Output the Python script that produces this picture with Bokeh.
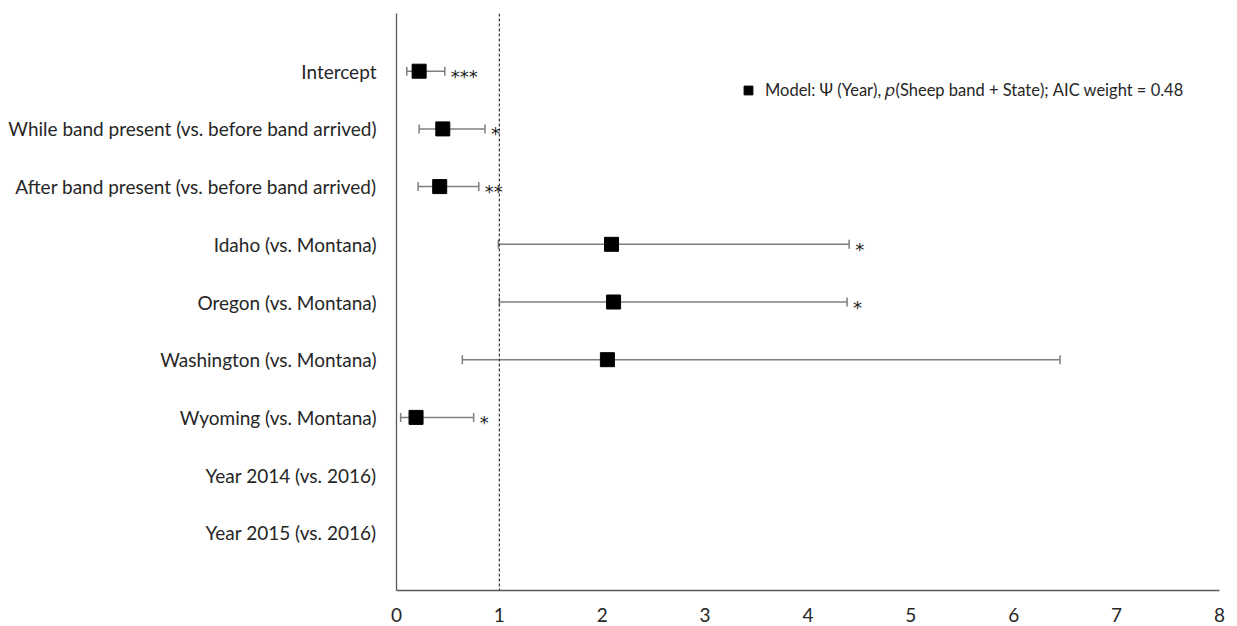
from bokeh.plotting import figure
from bokeh.models import ColumnDataSource, Whisker, TeeHead, Span, FixedTicker, Range1d, Legend, LegendItem
from bokeh.embed import file_html
from bokeh.resources import INLINE

categories = [
    "Intercept",
    "While band present (vs. before band arrived)",
    "After band present (vs. before band arrived)",
    "Idaho (vs. Montana)",
    "Oregon (vs. Montana)",
    "Washington (vs. Montana)",
    "Wyoming (vs. Montana)",
    "Year 2014 (vs. 2016)",
    "Year 2015 (vs. 2016)",
]
estimate = [0.22, 0.45, 0.42, 2.09, 2.11, 2.05, 0.19, None, None]
lower = [0.10, 0.22, 0.21, 0.99, 1.00, 0.64, 0.04, None, None]
upper = [0.47, 0.86, 0.80, 4.40, 4.38, 6.45, 0.75, None, None]
significance = ["***", "*", "**", "*", "*", "", "*", "", ""]
x_ticks = [0, 1, 2, 3, 4, 5, 6, 7, 8]
legend_text = "Model: \u03a8 (Year), \U0001D45D(Sheep band + State); AIC weight = 0.48"

n = len(categories)
ypos = [n - i for i in range(n)]
rows = [i for i in range(n) if estimate[i] is not None]
src = ColumnDataSource(dict(
    y=[ypos[i] for i in rows],
    est=[estimate[i] for i in rows],
    lo=[lower[i] for i in rows],
    hi=[upper[i] for i in rows],
    sig=[significance[i] for i in rows],
))

FONT = "Lato"
TXT = "#262626"

p = figure(width=1233, height=624, output_backend="svg", toolbar_location=None,
           x_range=Range1d(0, 8), y_range=Range1d(0, n + 1),
           min_border_left=396, min_border_right=14, min_border_top=13, min_border_bottom=33)
p.outline_line_color = None
p.grid.visible = False
p.background_fill_color = "white"

p.xaxis.ticker = FixedTicker(ticks=x_ticks)
p.yaxis.ticker = FixedTicker(ticks=ypos)
p.yaxis.major_label_overrides = {ypos[i]: categories[i] for i in range(n)}
for ax in (p.xaxis[0], p.yaxis[0]):
    ax.axis_line_color = "#595959"
    ax.axis_line_width = 1.3
    ax.major_tick_line_color = None
    ax.minor_tick_line_color = None
    ax.major_label_text_font = FONT
    ax.major_label_text_font_size = "19px"
    ax.major_label_text_color = TXT
p.yaxis.major_label_standoff = 14
p.xaxis.major_label_standoff = 11

p.add_layout(Span(location=1, dimension="height", line_color="#404040",
                  line_dash="3 2", line_width=1.2))

w = Whisker(base="y", lower="lo", upper="hi", dimension="width", source=src,
            line_color="#7f7f7f", line_width=1.5,
            lower_head=TeeHead(size=9, line_color="#7f7f7f", line_width=1.5),
            upper_head=TeeHead(size=9, line_color="#7f7f7f", line_width=1.5))
p.add_layout(w)

r = p.scatter("est", "y", source=src, marker="square", size=14,
              fill_color="black", line_color="black")

p.text("hi", "y", text="sig", source=src, x_offset=6, y_offset=5,
       text_font_size="18px", text_baseline="middle", text_align="left",
       text_color="#1a1a1a", text_font={"value": "DejaVu Sans"})

legend = Legend(items=[LegendItem(label=legend_text, renderers=[r])],
                location=(341, 489), orientation="vertical",
                padding=0, margin=0, spacing=0,
                glyph_width=22, glyph_height=22, label_standoff=6,
                label_text_font=FONT, label_text_font_size="16.5px",
                label_text_color=TXT,
                border_line_alpha=0, background_fill_alpha=0)
p.add_layout(legend)

open("out.html", "w").write(file_html(p, INLINE))
